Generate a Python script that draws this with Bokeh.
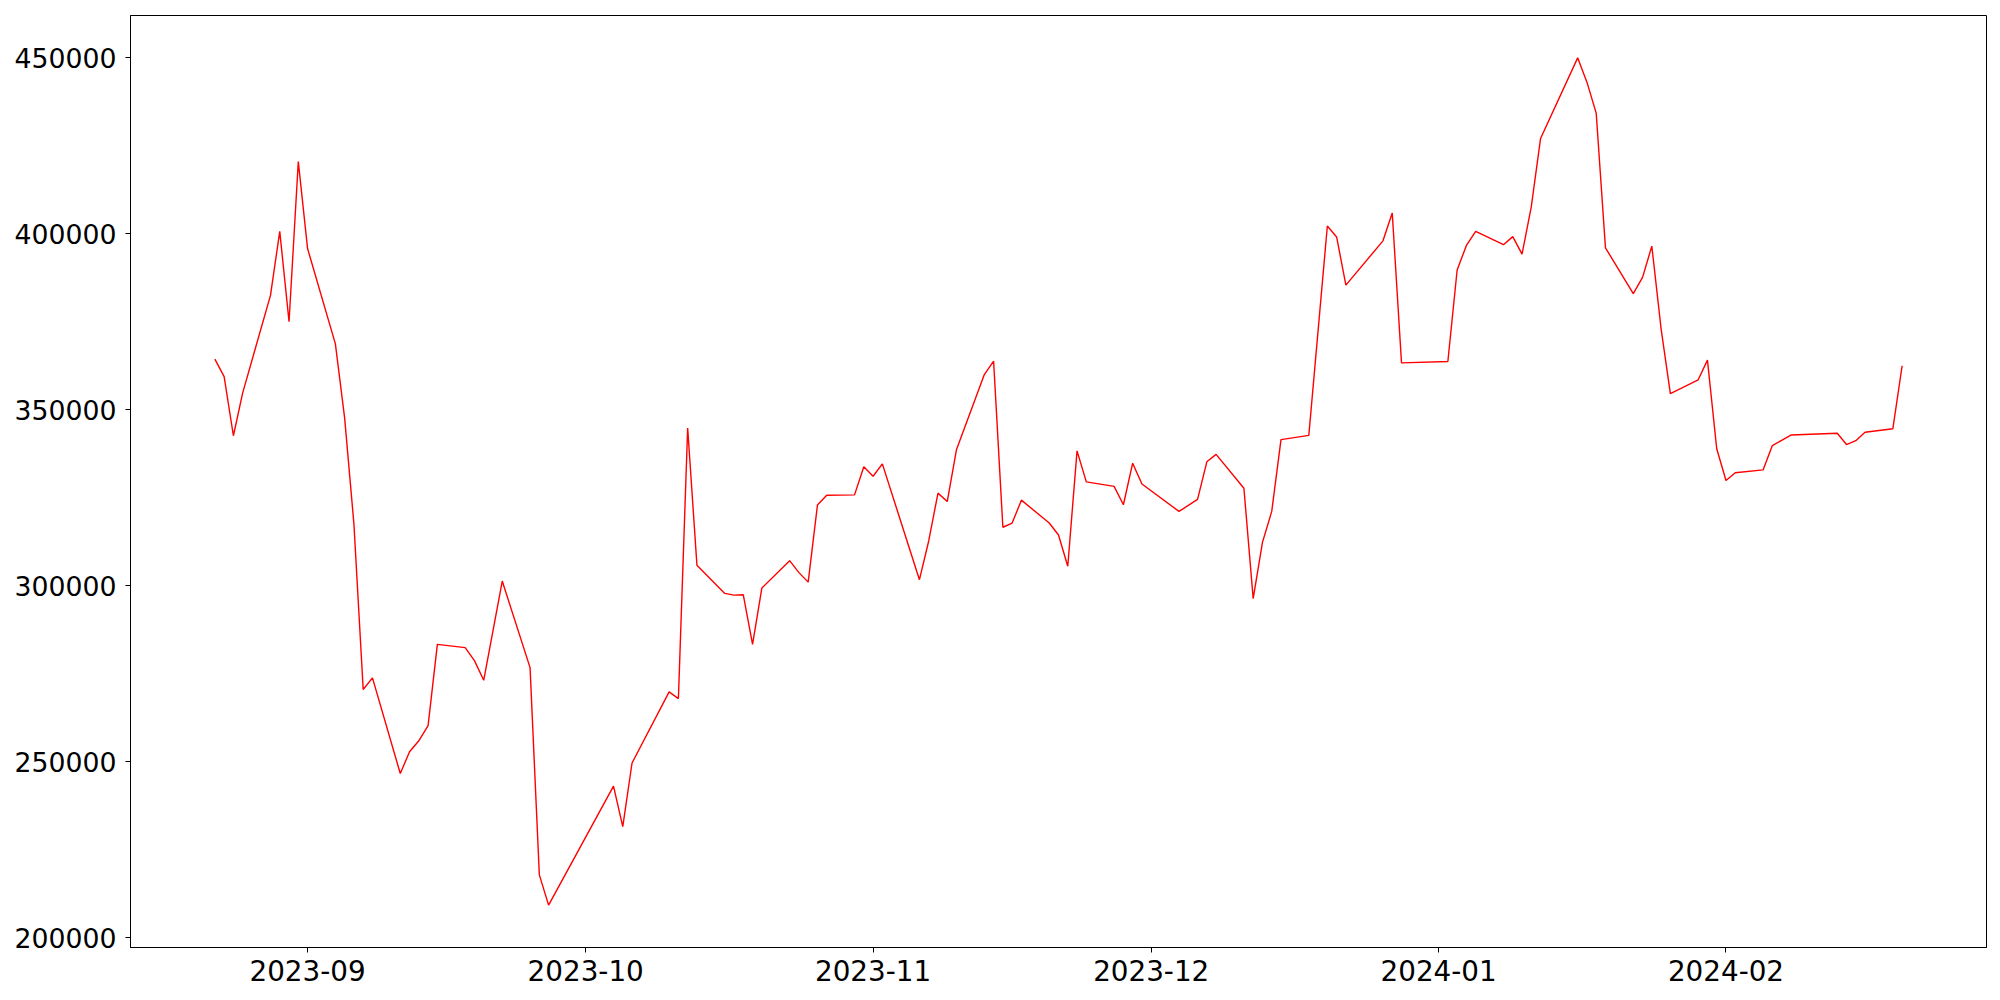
from datetime import datetime
from bokeh.plotting import figure
from bokeh.models import Range1d, MonthsTicker, DatetimeTickFormatter, FixedTicker, BasicTickFormatter
from bokeh.embed import file_html
from bokeh.resources import INLINE

dates = [
    "2023-08-22", "2023-08-23", "2023-08-24", "2023-08-25", "2023-08-28", "2023-08-29",
    "2023-08-30", "2023-08-31", "2023-09-01", "2023-09-04", "2023-09-05", "2023-09-06",
    "2023-09-07", "2023-09-08", "2023-09-11", "2023-09-12", "2023-09-13", "2023-09-14",
    "2023-09-15", "2023-09-18", "2023-09-19", "2023-09-20", "2023-09-22", "2023-09-25",
    "2023-09-26", "2023-09-27", "2023-10-04", "2023-10-05", "2023-10-06", "2023-10-10",
    "2023-10-11", "2023-10-12", "2023-10-13", "2023-10-16", "2023-10-17", "2023-10-18",
    "2023-10-19", "2023-10-20", "2023-10-23", "2023-10-24", "2023-10-25", "2023-10-26",
    "2023-10-27", "2023-10-30", "2023-10-31", "2023-11-01", "2023-11-02", "2023-11-06",
    "2023-11-07", "2023-11-08", "2023-11-09", "2023-11-10", "2023-11-13", "2023-11-14",
    "2023-11-15", "2023-11-16", "2023-11-17", "2023-11-20", "2023-11-21", "2023-11-22",
    "2023-11-23", "2023-11-24", "2023-11-27", "2023-11-28", "2023-11-29", "2023-11-30",
    "2023-12-04", "2023-12-06", "2023-12-07", "2023-12-08", "2023-12-11", "2023-12-12",
    "2023-12-13", "2023-12-14", "2023-12-15", "2023-12-18", "2023-12-20", "2023-12-21",
    "2023-12-22", "2023-12-26", "2023-12-27", "2023-12-28", "2024-01-02", "2024-01-03",
    "2024-01-04", "2024-01-05", "2024-01-08", "2024-01-09", "2024-01-10", "2024-01-11",
    "2024-01-12", "2024-01-16", "2024-01-17", "2024-01-18", "2024-01-19", "2024-01-22",
    "2024-01-23", "2024-01-24", "2024-01-25", "2024-01-26", "2024-01-29", "2024-01-30",
    "2024-01-31", "2024-02-01", "2024-02-02", "2024-02-05", "2024-02-06", "2024-02-07",
    "2024-02-08", "2024-02-13", "2024-02-14", "2024-02-15", "2024-02-16", "2024-02-19",
    "2024-02-20",
]

values = [
    364400, 359400, 342600, 354800, 382500, 400700,
    375000, 420500, 395800, 368700, 347600, 317500,
    270500, 273800, 246600, 252800, 255900, 260200,
    283300, 282400, 278700, 273100, 301300, 276700,
    217800, 209200, 243000, 231500, 249600, 269800,
    267900, 344800, 305800, 297800, 297300, 297400,
    283300, 299300, 307100, 303700, 301000, 322900,
    325700, 325800, 333800, 331100, 334600, 301700,
    312700, 326300, 323900, 338700, 360000, 363800,
    316600, 317800, 324300, 317800, 314400, 305500,
    338300, 329500, 328200, 323000, 334800, 328900,
    321100, 324500, 335200, 337300, 327700, 296300,
    312300, 321100, 341500, 342700, 402200, 399100,
    385400, 398000, 405900, 363300, 363700, 389700,
    396700, 400700, 396900, 399200, 394200, 407700,
    427100, 450000, 443100, 434300, 396000, 383000,
    387600, 396500, 373000, 354600, 358500, 364100,
    338900, 329900, 332100, 332900, 339800, 341300,
    342800, 343300, 340100, 341200, 343600, 344600,
    362500,
]

y_ticks = [200000, 250000, 300000, 350000, 400000, 450000]

x = [datetime.strptime(d, "%Y-%m-%d") for d in dates]

# matplotlib-like 5% margins
xmin, xmax = min(x), max(x)
xpad = (xmax - xmin) * 0.05
ymin, ymax = min(values), max(values)
ypad = (ymax - ymin) * 0.05

p = figure(
    x_axis_type="datetime",
    frame_width=1856, frame_height=932,
    min_border_left=130, min_border_top=15, min_border_right=6, min_border_bottom=48,
    output_backend="svg", toolbar_location=None,
    x_range=Range1d(xmin - xpad, xmax + xpad),
    y_range=Range1d(ymin - ypad, ymax + ypad),
)

p.line(x, values, line_color="red", line_width=1.4)

p.xgrid.grid_line_color = None
p.ygrid.grid_line_color = None
p.outline_line_color = "black"
p.outline_line_alpha = 1.0
p.outline_line_width = 1

p.xaxis.ticker = MonthsTicker(months=list(range(1, 13)))
p.xaxis.formatter = DatetimeTickFormatter(months="%Y-%m", days="%Y-%m", years="%Y-%m")
p.yaxis.ticker = FixedTicker(ticks=y_ticks)
p.yaxis.formatter = BasicTickFormatter(use_scientific=False)

for ax in (p.xaxis[0], p.yaxis[0]):
    ax.axis_line_color = "black"
    ax.major_tick_line_color = "black"
    ax.major_tick_out = 5
    ax.major_tick_in = 0
    ax.minor_tick_line_color = None
    ax.major_label_text_font = "DejaVu Sans"
    ax.major_label_text_color = "black"

p.xaxis.major_label_text_font_size = "27.8px"
p.yaxis.major_label_text_font_size = "26.7px"
p.xaxis.major_label_standoff = 7
p.yaxis.major_label_standoff = 9

open("out.html", "w").write(file_html(p, INLINE))
